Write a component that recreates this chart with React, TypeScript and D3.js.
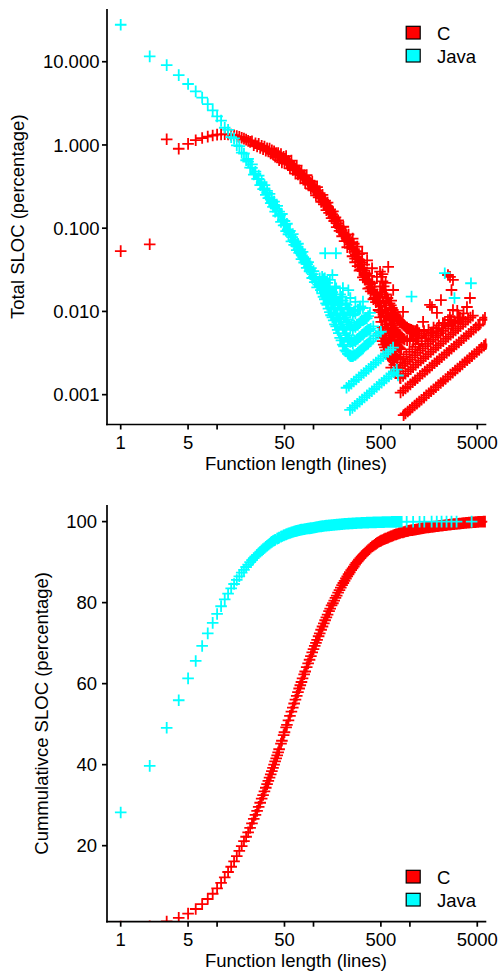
import React from "react";
import * as d3 from "d3";

type Pt = [number, number];

const seriesNames = ["C", "Java"];
const seriesColors = ["#FF0000", "#00FFFF"];
const xTicks = [1, 5, 10, 50, 100, 500, 1000, 5000];
const xTickLabels = ["1", "5", "", "50", "", "500", "", "5000"];
const topYTicks = [10, 1, 0.1, 0.01, 0.001];
const topYTickLabels = ["10.000", "1.000", "0.100", "0.010", "0.001"];
const botYTicks = [100, 80, 60, 40, 20];
const botYTickLabels = ["100", "80", "60", "40", "20"];

// ---------- Top panel: C ----------
const cTopHead: Pt[] = [[1,0.053],[2,0.064],[3,1.17],[4,0.9],[5,1.03],[6,1.14],[7,1.21],[8,1.26],[9,1.3],[10,1.33],[11,1.34],[12,1.35],[13,1.34],[14,1.33],[15,1.31],[16,1.28],[17,1.25],[18,1.22],[19,1.19],[20,1.16],[21,1.12],[22,1.09]];
const cTopBand: Pt[] = [[23,1.11],[24,0.99],[25,1.05],[26,0.96],[27,1.03],[28,0.92],[29,0.98],[30,0.89],[31,0.96],[32,0.855],[33,0.91],[34,0.835],[35,0.905],[36,0.79],[37,0.86],[38,0.77],[39,0.84],[40,0.725],[41,0.8],[42,0.707],[43,0.8],[44,0.657],[46,0.78],[47,0.616],[49,0.72],[50,0.603],[52,0.735],[53,0.595],[55,0.645],[57,0.522],[59,0.65],[61,0.5],[63,0.567],[65,0.453],[67,0.565],[69,0.441],[71,0.494],[73,0.396],[75,0.493],[77,0.4],[80,0.435],[82,0.348],[85,0.435],[88,0.333],[91,0.373],[94,0.3],[97,0.364],[100,0.285],[103,0.321],[106,0.248],[109,0.311],[113,0.234],[116,0.263],[120,0.207],[124,0.252],[128,0.193],[132,0.214],[136,0.165],[140,0.203],[145,0.153],[149,0.168],[154,0.132],[159,0.159],[164,0.122],[169,0.135],[174,0.103],[180,0.124],[186,0.093],[192,0.102],[198,0.08],[204,0.104],[210,0.07],[217,0.084],[224,0.059],[231,0.084],[238,0.058],[246,0.068],[254,0.046],[262,0.065],[270,0.043],[278,0.053],[287,0.035],[296,0.049],[306,0.032],[315,0.0385],[325,0.0256],[336,0.0366],[346,0.024],[357,0.0283],[369,0.0188],[380,0.0268],[392,0.0174],[405,0.0219],[418,0.014],[431,0.0199],[444,0.0129],[458,0.0161],[473,0.0104],[488,0.0146],[503,0.0098]];
const cTopBandMid: Pt[] = [[45,0.72],[48,0.69],[51,0.66],[54,0.63],[56,0.61],[58,0.59],[60,0.57],[62,0.54],[64,0.525],[66,0.51],[68,0.49],[70,0.48],[72,0.46],[74,0.45],[76,0.435],[78,0.42],[81,0.405],[83,0.395],[86,0.38],[89,0.365],[92,0.35],[95,0.335],[98,0.32],[101,0.305],[104,0.295],[107,0.282],[111,0.268],[114,0.256],[118,0.243],[122,0.23],[126,0.218],[130,0.205],[134,0.195],[138,0.185],[142,0.176],[147,0.165],[151,0.156],[156,0.147],[161,0.138],[166,0.13],[171,0.122],[177,0.114],[183,0.107],[189,0.1],[195,0.094],[201,0.089],[207,0.085],[213,0.081],[220,0.076],[227,0.072],[234,0.068],[242,0.064],[250,0.06],[258,0.056],[266,0.052],[274,0.0485],[282,0.0455],[291,0.0425],[301,0.0395],[310,0.0365],[320,0.0335],[330,0.031],[341,0.029],[351,0.027],[363,0.0242],[374,0.0228],[386,0.0213],[398,0.0198],[411,0.0183],[424,0.017],[437,0.0158],[451,0.0146],[465,0.0135],[480,0.0126],[495,0.0118]];
const cTopSpread: Pt[] = [[255,0.075],[270,0.039],[285,0.06],[300,0.031],[320,0.05],[340,0.024],[360,0.041],[380,0.019],[405,0.033],[430,0.0145],[455,0.026],[485,0.0098],[515,0.02]];
const cTopMassDense: Pt[] = [[490,0.03],[490,0.02],[490,0.0135],[490,0.0085],[490,0.0055],[505,0.026],[505,0.017],[505,0.0115],[505,0.0075],[505,0.0048],[520,0.023],[520,0.015],[520,0.0098],[520,0.0065],[520,0.0044],[535,0.02],[535,0.013],[535,0.0086],[535,0.0057],[535,0.004],[550,0.018],[550,0.0118],[550,0.0078],[550,0.0052],[550,0.0037],[565,0.016],[565,0.0105],[565,0.007],[565,0.0047],[565,0.0034],[585,0.0145],[585,0.0095],[585,0.0063],[585,0.0043],[585,0.0031],[600,0.0135],[600,0.0088],[600,0.0058],[600,0.0039],[600,0.0029],[615,0.0125],[615,0.0082],[615,0.0055],[615,0.0037],[615,0.0028],[635,0.0118],[635,0.0077],[635,0.0052],[635,0.0035],[635,0.0027],[650,0.011],[650,0.0072],[650,0.0049],[650,0.0033],[665,0.0104],[665,0.0068],[665,0.0046],[665,0.0031],[665,0.0026],[685,0.0098],[685,0.0064],[685,0.0044],[685,0.003],[700,0.0093],[700,0.006],[700,0.0042],[700,0.0029],[715,0.0089],[715,0.0058],[715,0.004],[715,0.0028],[735,0.0085],[735,0.0056],[735,0.0039],[735,0.0027],[750,0.0082],[750,0.0054],[750,0.0038],[770,0.0079],[770,0.0052],[770,0.0037],[790,0.0076],[790,0.005],[790,0.0036],[810,0.0073],[810,0.0049],[810,0.0035],[830,0.0071],[830,0.0048],[855,0.0069],[855,0.0047],[880,0.0067],[880,0.0046],[905,0.0065],[935,0.0064],[935,0.0045],[965,0.0062],[995,0.0061],[995,0.0044],[1030,0.006],[1065,0.0059],[1100,0.0058],[1150,0.0058],[1200,0.0058]];
const cTopMass: Pt[] = [[1000,0.0047],[1040,0.0055],[1080,0.0045],[1130,0.0052],[1180,0.0047],[1250,0.0055],[1320,0.0049],[1400,0.0058],[1480,0.0052],[1560,0.006],[1650,0.0055],[1760,0.0064],[1870,0.0058],[2000,0.0068],[2150,0.0062],[2300,0.0072],[2500,0.0068],[2700,0.0078],[2950,0.0074],[3200,0.0085],[3500,0.0082],[753,0.0019],[790,0.0016]];
const cTopCount1: Pt[] = [[860,0.000568],[900,0.000594],[950,0.000627],[1000,0.00066],[1060,0.0007],[1120,0.00074],[1180,0.00078],[1250,0.000825],[1320,0.00087],[1400,0.00092],[1480,0.00098],[1570,0.00104],[1660,0.0011],[1760,0.00116],[1860,0.00123],[1970,0.0013],[2090,0.00138],[2210,0.00146],[2340,0.00154],[2480,0.00164],[2630,0.00174],[2780,0.00183],[2950,0.00195],[3120,0.00206],[3300,0.00218],[3500,0.00231],[3710,0.00245],[3930,0.00259],[4160,0.00275],[4400,0.0029],[4660,0.00308],[4940,0.00326],[5230,0.00345],[5540,0.00366],[5870,0.00387],[6100,0.00403]];
const cTopCount2: Pt[] = [[800,0.00106],[850,0.00112],[900,0.00119],[950,0.00125],[1010,0.00133],[1070,0.00141],[1130,0.00149],[1200,0.00158],[1270,0.00168],[1350,0.00178],[1430,0.00189],[1510,0.00199],[1600,0.00211],[1700,0.00224],[1800,0.00238],[1910,0.00252],[2020,0.00267],[2140,0.00282],[2270,0.003],[2410,0.00318],[2550,0.00337],[2700,0.00356],[2870,0.00379],[3040,0.00401],[3220,0.00425],[3410,0.0045],[3620,0.00478],[3840,0.00507],[4070,0.00537],[4310,0.00569],[4570,0.00603],[4840,0.00639],[5130,0.00677],[5300,0.007]];
const cTopCount3: Pt[] = [[800,0.00158],[850,0.00168],[900,0.00178],[960,0.0019],[1020,0.00202],[1080,0.00214],[1150,0.00228],[1220,0.00242],[1300,0.00257],[1380,0.00273],[1460,0.00289],[1550,0.00307],[1650,0.00327],[1750,0.00347],[1860,0.00368],[1970,0.0039],[2090,0.00414],[2220,0.0044],[2360,0.00467],[2500,0.00495],[2650,0.00525],[2810,0.00556],[2980,0.0059],[3160,0.00626],[3350,0.00663],[3560,0.00705],[3780,0.00748],[4010,0.00794],[4250,0.00842],[4500,0.00891]];
const cTopCount4: Pt[] = [[700,0.00185],[745,0.00197],[790,0.00209],[840,0.00222],[890,0.00235],[945,0.0025],[1000,0.00264],[1060,0.0028],[1130,0.00298],[1200,0.00317],[1280,0.00338],[1360,0.00359],[1450,0.00383],[1540,0.00407],[1640,0.00433],[1740,0.00459],[1850,0.00488],[1960,0.00517],[2080,0.00549],[2210,0.00583],[2350,0.0062],[2500,0.0066],[2700,0.00713],[2900,0.00766],[3200,0.00845],[3600,0.0095]];
const cTopCount5: Pt[] = [[640,0.00211],[690,0.00228],[740,0.00244],[800,0.00264],[860,0.00284],[920,0.00304],[990,0.00327],[1060,0.0035],[1140,0.00376],[1230,0.00406],[1330,0.00439],[1440,0.00475],[1560,0.00515],[1700,0.00561],[1900,0.00627],[2200,0.00726],[2600,0.00858],[3100,0.0102]];
const cTopOutliers: Pt[] = [[596,0.0343],[671,0.0181],[849,0.0099],[1694,0.0113],[1908,0.0096],[2483,0.0079],[2798,0.0104],[3310,0.0084],[3909,0.0113],[4200,0.0145],[2483,0.0274],[2798,0.0239],[2606,0.026],[2700,0.0181],[3556,0.0079],[5730,0.0079],[1614,0.012],[1186,0.006],[6010,0.0084],[1370,0.0075],[2100,0.0137],[520,0.028],[560,0.022],[640,0.0135]];

// ---------- Top panel: Java ----------
const jTopHead: Pt[] = [[1,27.8],[2,11.6],[3,9.1],[4,6.9],[5,5.4],[6,4.4],[7,3.7],[8,3.1],[9,2.6],[10,2.2]];
const jTopBand: Pt[] = [[11,1.96],[12,1.61],[13,1.52],[14,1.24],[15,1.2],[16,0.99],[17,0.97],[18,0.81],[19,0.79],[20,0.655],[21,0.68],[22,0.534],[23,0.583],[24,0.441],[25,0.477],[26,0.391],[27,0.429],[28,0.329],[29,0.357],[30,0.294],[31,0.33],[32,0.252],[33,0.281],[34,0.23],[35,0.259],[36,0.2],[37,0.22],[38,0.18],[39,0.209],[40,0.158],[42,0.185],[43,0.141],[44,0.158],[46,0.119],[47,0.148],[49,0.108],[50,0.122],[52,0.0924],[53,0.113],[55,0.0846],[57,0.0929],[59,0.0696],[61,0.0848],[63,0.063],[65,0.0693],[67,0.0546],[69,0.065],[71,0.0506],[73,0.0556],[75,0.0426],[77,0.052],[80,0.0387],[82,0.043],[85,0.0334],[88,0.0392],[91,0.0304],[94,0.0332],[97,0.0252],[100,0.0305],[103,0.0225],[106,0.0247],[109,0.0194]];
const jTopBandMid: Pt[] = [[21,0.63],[23,0.53],[25,0.45],[27,0.39],[29,0.34],[31,0.3],[33,0.265],[35,0.235],[37,0.21],[39,0.19],[41,0.172],[45,0.143],[48,0.125],[51,0.11],[54,0.097],[56,0.09],[58,0.083],[60,0.078],[62,0.072],[64,0.068],[66,0.064],[68,0.06],[70,0.056],[72,0.053],[74,0.05],[76,0.047],[78,0.045],[81,0.042],[83,0.04],[86,0.037],[89,0.034],[92,0.032],[95,0.03],[98,0.028],[101,0.026],[104,0.0245],[107,0.023]];
const jTopMass: Pt[] = [[116,0.0195],[116,0.025],[123,0.0165],[123,0.021],[123,0.026],[131,0.014],[131,0.019],[131,0.025],[139,0.012],[139,0.0165],[139,0.022],[148,0.0098],[148,0.014],[148,0.019],[148,0.024],[157,0.0085],[157,0.012],[157,0.017],[167,0.007],[167,0.0105],[167,0.0145],[167,0.02],[178,0.006],[178,0.009],[178,0.013],[189,0.0048],[189,0.0075],[189,0.011],[189,0.016],[201,0.004],[201,0.0063],[201,0.0095],[201,0.0135],[214,0.0034],[214,0.0055],[214,0.0085],[214,0.0125],[227,0.0031],[227,0.0048],[227,0.0074],[227,0.011],[241,0.0029],[241,0.0043],[241,0.0066],[241,0.0098],[241,0.0145],[256,0.0029],[256,0.0041],[256,0.006],[256,0.009],[272,0.003],[272,0.0044],[272,0.0065],[272,0.0095],[272,0.013],[289,0.0032],[289,0.0047],[289,0.007],[289,0.0105],[307,0.0034],[307,0.005],[307,0.0075],[307,0.0115],[326,0.0036],[326,0.0053],[326,0.0078],[326,0.011],[347,0.0039],[347,0.0057],[347,0.0082],[369,0.0041],[369,0.006],[369,0.0088],[392,0.0044],[392,0.0062],[417,0.0047],[417,0.0066],[443,0.0051],[471,0.0054],[500,0.0057]];
const jTopMass2: Pt[] = [[112,0.021],[119,0.018],[119,0.022],[127,0.015],[127,0.0195],[127,0.0245],[135,0.0125],[135,0.017],[135,0.022],[143,0.0108],[143,0.015],[143,0.02],[152,0.009],[152,0.0125],[152,0.0175],[162,0.0078],[162,0.011],[162,0.016],[172,0.0066],[172,0.0095],[172,0.0135],[172,0.019],[183,0.0055],[183,0.0082],[183,0.012],[195,0.0045],[195,0.007],[195,0.0105],[195,0.015],[207,0.0038],[207,0.006],[207,0.009],[220,0.0033],[220,0.0052],[220,0.008],[220,0.012],[234,0.003],[234,0.0046],[234,0.007],[234,0.0105],[249,0.0029],[249,0.0044],[249,0.0068],[264,0.003],[264,0.0045],[264,0.0068],[264,0.01],[280,0.0031],[280,0.0046],[280,0.0069],[298,0.0033],[298,0.0049],[298,0.0072],[298,0.0105],[316,0.0035],[316,0.0052],[316,0.0078],[336,0.0038],[336,0.0055],[336,0.008],[357,0.004],[357,0.0058],[357,0.0083],[380,0.0043],[380,0.006]];
const jTopCount1: Pt[] = [[239,0.000655],[253,0.000693],[268,0.000734],[284,0.000778],[301,0.000825],[319,0.000874],[338,0.000926],[358,0.000981],[380,0.00104],[403,0.0011],[427,0.00117],[453,0.00124],[480,0.00132],[509,0.00139],[540,0.00148],[572,0.00157],[606,0.00166],[642,0.00176],[680,0.00186]];
const jTopCount2: Pt[] = [[220,0.00121],[233,0.00128],[247,0.00135],[262,0.00144],[278,0.00152],[295,0.00162],[313,0.00172],[332,0.00182],[352,0.00193],[373,0.00204],[395,0.00216],[419,0.0023],[444,0.00243],[471,0.00258],[499,0.00273],[529,0.0029],[561,0.00307],[595,0.00326],[631,0.00346],[669,0.00367]];
const jTopOutliers: Pt[] = [[132,0.05],[171,0.05],[157,0.0274],[202,0.0191],[230,0.018],[303,0.0114],[326,0.0131],[385,0.0096],[1040,0.0151],[2300,0.0288],[2900,0.0145],[4300,0.0218],[730,0.002],[752,0.0017]];

// ---------- Bottom panel: cumulative ----------
const cBot: Pt[] = [[1,0.05],[2,0.12],[3,1.29],[4,2.19],[5,3.22],[6,4.36],[7,5.57],[8,6.83],[9,8.13],[10,9.46],[11,10.8],[12,12.15],[13,13.5],[14,14.8],[15,16.1],[16,17.4],[17,18.7],[18,19.9],[19,21.1],[20,22.2],[21,23.3],[22,24.4],[23,25.5],[24,26.6],[25,27.6],[26,28.6],[27,29.6],[28,30.6],[29,31.6],[30,32.5],[31,33.4],[32,34.3],[33,35.2],[34,36.0],[35,36.8],[36,37.6],[37,38.4],[38,39.2],[39,40.0],[40,40.8],[41,41.55],[42,42.3],[43,43.05],[44,43.8],[46,45.2],[47,45.9],[49,47.3],[50,48.0],[52,49.2],[53,49.8],[55,50.95],[57,52.05],[59,53.1],[61,54.1],[63,55.1],[65,56.05],[67,57.0],[69,57.9],[71,58.8],[73,59.6],[75,60.4],[77,61.3],[80,62.3],[82,63.0],[85,64.1],[88,65.0],[91,65.9],[94,66.8],[97,67.7],[100,68.5],[103,69.3],[106,70.05],[109,70.8],[113,71.7],[116,72.4],[120,73.3],[124,74.1],[128,74.9],[132,75.65],[136,76.35],[140,77.05],[145,77.9],[149,78.5],[154,79.3],[159,79.85],[164,80.5],[169,81.15],[174,81.75],[180,82.45],[186,83.1],[192,83.7],[198,84.3],[204,84.85],[210,85.35],[217,85.95],[224,86.5],[231,87.0],[238,87.5],[246,88.0],[254,88.45],[262,88.9],[270,89.4],[278,89.8],[287,90.2],[296,90.6],[306,91.0],[315,91.35],[325,91.65],[336,92.0],[346,92.35],[357,92.7],[369,93.0],[380,93.25],[392,93.55],[405,93.85],[418,94.05],[431,94.3],[444,94.5],[458,94.75],[473,94.95],[488,95.15],[503,95.3],[520,95.45],[537,95.65],[555,95.8],[573,95.9],[592,96.05],[611,96.2],[631,96.35],[652,96.45],[673,96.6],[695,96.75],[718,96.85],[741,96.95],[766,97.1],[791,97.2],[817,97.3],[843,97.35],[871,97.45],[899,97.55],[929,97.65],[959,97.7],[990,97.8],[1023,97.85],[1056,97.9],[1091,97.95],[1126,98.0],[1163,98.07],[1201,98.13],[1241,98.2],[1281,98.27],[1323,98.33],[1366,98.38],[1411,98.44],[1457,98.48],[1505,98.53],[1554,98.58],[1605,98.62],[1658,98.66],[1712,98.71],[1768,98.76],[1826,98.8],[1885,98.85],[1947,98.89],[2011,98.93],[2077,98.97],[2145,99.01],[2215,99.05],[2287,99.09],[2362,99.13],[2440,99.17],[2519,99.21],[2602,99.25],[2687,99.29],[2775,99.33],[2866,99.37],[2960,99.41],[3057,99.44],[3157,99.48],[3260,99.51],[3367,99.55],[3477,99.58],[3591,99.62],[3708,99.65],[3830,99.68],[3955,99.71],[4085,99.74],[4218,99.77],[4356,99.8],[4499,99.83],[4646,99.86],[4798,99.88],[4955,99.91],[5117,99.93],[5285,99.95],[5458,99.97],[5636,99.98],[5821,99.99],[6011,100]];
const jBot: Pt[] = [[1,28.2],[2,39.7],[3,49.1],[4,55.9],[5,61.3],[6,65.6],[7,69.3],[8,72.4],[9,75.0],[10,77.2],[11,79.1],[12,80.8],[13,82.2],[14,83.5],[15,84.6],[16,85.6],[17,86.5],[18,87.4],[19,88.1],[20,88.8],[21,89.4],[22,90.0],[23,90.5],[24,91.0],[25,91.4],[26,91.8],[27,92.2],[28,92.55],[29,92.9],[30,93.2],[31,93.5],[32,93.8],[33,94.05],[34,94.3],[35,94.55],[36,94.8],[37,95.0],[38,95.2],[39,95.35],[40,95.5],[42,95.8],[43,95.9],[44,96.05],[46,96.3],[47,96.4],[49,96.6],[50,96.7],[52,96.85],[53,96.95],[55,97.1],[57,97.2],[59,97.35],[61,97.45],[63,97.55],[65,97.65],[67,97.72],[69,97.8],[71,97.88],[73,97.95],[75,98.02],[77,98.06],[80,98.12],[82,98.17],[85,98.23],[88,98.29],[91,98.34],[94,98.39],[97,98.43],[100,98.48],[103,98.53],[106,98.6],[109,98.66],[113,98.74],[116,98.78],[120,98.83],[124,98.88],[128,98.93],[132,98.97],[136,99.0],[140,99.03],[145,99.07],[149,99.1],[154,99.14],[159,99.17],[164,99.2],[169,99.23],[174,99.26],[180,99.29],[186,99.32],[192,99.35],[198,99.38],[204,99.41],[210,99.43],[217,99.46],[224,99.48],[231,99.5],[238,99.52],[246,99.55],[254,99.57],[262,99.59],[270,99.61],[278,99.62],[287,99.64],[296,99.66],[306,99.67],[315,99.69],[325,99.7],[336,99.72],[346,99.73],[357,99.74],[369,99.76],[380,99.77],[392,99.78],[405,99.79],[418,99.8],[431,99.81],[444,99.82],[458,99.83],[473,99.84],[488,99.85],[503,99.86],[520,99.87],[537,99.88],[555,99.89],[573,99.9],[592,99.905],[611,99.91],[631,99.92],[652,99.925],[673,99.93],[695,99.94],[718,99.945],[741,99.95],[766,99.95],[791,99.952],[822,99.955],[926,99.96],[1080,99.97],[1260,99.975],[1410,99.98],[1680,99.985],[1900,99.99],[2130,99.993],[2400,99.995],[2700,99.997],[3050,99.998],[4370,100]];

const cTop: Pt[] = [...cTopHead, ...cTopBand, ...cTopBandMid, ...cTopSpread, ...cTopMassDense, ...cTopMass, ...cTopCount1, ...cTopCount2, ...cTopCount3, ...cTopCount4, ...cTopCount5, ...cTopOutliers];
const jTop: Pt[] = [...jTopHead, ...jTopBand, ...jTopBandMid, ...jTopMass, ...jTopMass2, ...jTopCount1, ...jTopCount2, ...jTopOutliers];

const FONT = "'Liberation Sans', Arial, Helvetica, sans-serif";
const FS = 18.5;
const R = 5.8;

function plusPath(pts: Pt[], x: (v: number) => number, y: (v: number) => number): string {
  return pts
    .map(([a, b]) => {
      const px = x(a), py = y(b);
      return `M${(px - R).toFixed(2)},${py.toFixed(2)}H${(px + R).toFixed(2)}M${px.toFixed(2)},${(py - R).toFixed(2)}V${(py + R).toFixed(2)}`;
    })
    .join("");
}

const L = 107, RT = 486.3;

function Panel(props: {
  top: number; bottom: number; y: any; yTicks: number[]; yLabels: string[]; labelX: number;
  title: string; titleX: number; data: Pt[][]; clipId: string; legendY: number;
}) {
  const { top, bottom, y, yTicks, yLabels, labelX, title, titleX, data, clipId, legendY } = props;
  const x = d3.scaleLog().domain([0.721, 6202]).range([L, RT]);
  const cy = (top + bottom) / 2;
  return (
    <g>
      <defs>
        <clipPath id={clipId}>
          <rect x={L} y={top} width={RT - L + 1} height={bottom - top} />
        </clipPath>
      </defs>
      <g clipPath={`url(#${clipId})`}>
        {data.map((pts, i) => (
          <path key={i} d={plusPath(pts, x, y)} stroke={seriesColors[i]} strokeWidth={1.8} fill="none" />
        ))}
      </g>
      <path d={`M${L},${top}V${bottom + 0.85}`} stroke="#000" strokeWidth={1.7} fill="none" />
      <path d={`M${L - 0.85},${bottom}H${RT}`} stroke="#000" strokeWidth={1.7} fill="none" />
      {yTicks.map((t, i) => (
        <g key={"y" + i}>
          <line x1={L - 5} x2={L} y1={y(t)} y2={y(t)} stroke="#000" strokeWidth={1.7} />
          <text x={labelX} y={y(t) + 6.6} textAnchor="end" fontFamily={FONT} fontSize={FS} fill="#000">{yLabels[i]}</text>
        </g>
      ))}
      {xTicks.map((t, i) => (
        <g key={"x" + i}>
          <line x1={x(t)} x2={x(t)} y1={bottom} y2={bottom + 5} stroke="#000" strokeWidth={1.7} />
          {xTickLabels[i] && (
            <text x={x(t)} y={bottom + 24} textAnchor="middle" fontFamily={FONT} fontSize={FS} fill="#000">{xTickLabels[i]}</text>
          )}
        </g>
      ))}
      <text x={296} y={bottom + 45} textAnchor="middle" fontFamily={FONT} fontSize={FS} fill="#000">Function length (lines)</text>
      <text transform={`translate(${titleX},${cy}) rotate(-90)`} textAnchor="middle" fontFamily={FONT} fontSize={FS} fill="#000">{title}</text>
      {seriesNames.map((n, i) => (
        <g key={"lg" + i}>
          <rect x={406.2} y={legendY + i * 23} width={14} height={12.7} fill={seriesColors[i]} stroke="#000" strokeWidth={1.2} />
          <text x={437} y={legendY + i * 23 + 13.7} fontFamily={FONT} fontSize={FS} fill="#000">{n}</text>
        </g>
      ))}
    </g>
  );
}

export default function App() {
  const yTop = d3.scaleLog().domain([0.000438, 43.0]).range([424.5, 9]);
  const yBot = d3.scaleLinear().domain([1.23, 104.1]).range([921.7, 505]);
  return (
    <svg width={500} height={971} style={{ position: "absolute", left: 0, top: 0, background: "#fff" }}>
      <rect x={0} y={0} width={500} height={971} fill="#fff" />
      <Panel top={9} bottom={424.5} y={yTop} yTicks={topYTicks} yLabels={topYTickLabels} labelX={99.5}
        title="Total SLOC (percentage)" titleX={24.3} data={[cTop, jTop]} clipId="clipTop" legendY={26.3} />
      <Panel top={505} bottom={921.7} y={yBot} yTicks={botYTicks} yLabels={botYTickLabels} labelX={97}
        title="Cummulativce SLOC (percentage)" titleX={48.2} data={[cBot, jBot]} clipId="clipBot" legendY={870.3} />
    </svg>
  );
}
